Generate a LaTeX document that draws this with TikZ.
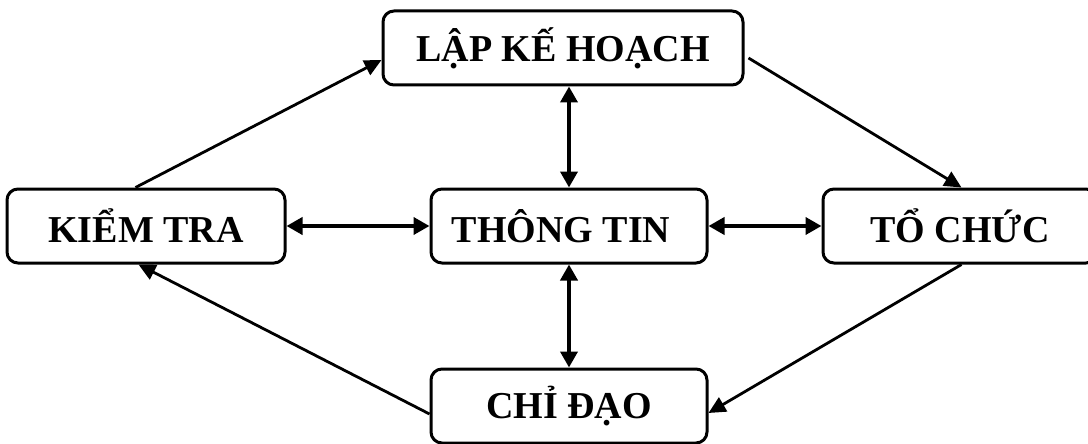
\documentclass[tikz,border=0pt]{standalone}
\usepackage{fontspec}
\setmainfont{Liberation Serif}
\usetikzlibrary{arrows.meta,calc}
\tikzset{
  stage/.style={draw, line width=3pt, rounded corners=11pt, minimum height=74pt,
    inner sep=0pt, font=\fontsize{38}{40}\selectfont\bfseries},
  flow/.style={line width=2.8pt, -{Triangle[length=17pt,width=16pt]}},
  link/.style={line width=3.8pt, {Triangle[length=16pt,width=17pt]}-{Triangle[length=16pt,width=17pt]}}
}
\begin{document}
\begin{tikzpicture}[x=1pt,y=-1pt]
\useasboundingbox (0,0) rectangle (1088,444);
\fill[white] (0,0) rectangle (1088,444);

% stages of the management cycle
\node[stage, minimum width=360pt] (plan)   at (563,48)  {LẬP KẾ HOẠCH};
\node[stage, minimum width=278pt] (check)  at (146,226) {KIỂM TRA};
\node[stage, minimum width=276pt] (info)   at (569,226) {THÔNG TIN\kern16pt};
\node[stage, minimum width=274pt] (org)    at (960,226) {TỔ CHỨC};
\node[stage, minimum width=276pt] (direct) at (569,406) {CHỈ ĐẠO};

% the cycle
\draw[flow] ($(check.north west)+(130,0)$) -- ($(plan.west)+(0,12)$);
\draw[flow] ($(plan.east)+(4,10)$) -- ($(org.north west)+(140,0)$);
\draw[flow] ($(org.south west)+(140,0)$) -- ($(direct.east)+(0,7)$);
\draw[flow] ($(direct.west)+(0,8)$) -- ($(check.south west)+(133,0)$);

% information exchange with the centre
\draw[link] (check.east) -- (info.west);
\draw[link] (info.east) -- (org.west);
\draw[link] (info.north |- plan.south) -- (info.north);
\draw[link] (info.south) -- (direct.north);
\end{tikzpicture}
\end{document}
